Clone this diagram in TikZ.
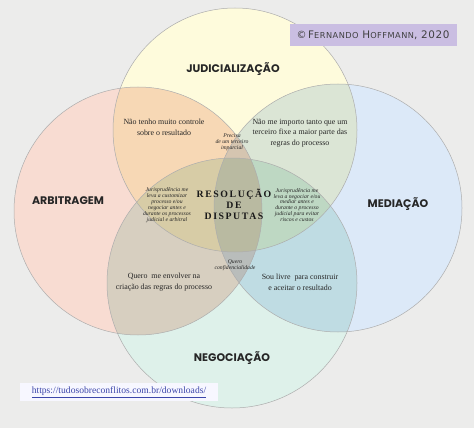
\documentclass[tikz,border=0pt]{standalone}
\usepackage{fontspec}
\setmainfont{Liberation Serif}
\newfontfamily\setfont{Poppins}
\newfontfamily\creditfont{DejaVu Sans}
\definecolor{paper}{RGB}{236,236,235}
\definecolor{arbred}{RGB}{248,220,210}
\definecolor{judyellow}{RGB}{254,251,220}
\definecolor{medblue}{RGB}{220,233,248}
\definecolor{neggreen}{RGB}{222,241,234}
\definecolor{creditlilac}{RGB}{202,190,226}
\definecolor{linkblue}{RGB}{60,70,170}
\newcommand\capword[2]{{\fontsize{10.4}{11}\selectfont #1}{\fontsize{8.2}{11}\selectfont #2}}

\begin{document}
\begin{tikzpicture}[
    x=1pt, y=-1pt,
    setline/.style={draw=black!32, line width=0.5pt},
    setname/.style={font=\setfont\bfseries\fontsize{11}{12}\selectfont, text=black!85},
    note/.style={align=center, font=\fontsize{7.9}{10.6}\selectfont, text=black!85},
    tinynote/.style={align=center, font=\itshape\fontsize{5.7}{5.9}\selectfont, text=black!85},
    core/.style={align=center, font=\bfseries\addfontfeatures{LetterSpace=16}\fontsize{9.8}{11}\selectfont, text=black!90}
]
    \fill[paper] (0,0) rectangle (474,428);

    % the four sets
    \begin{scope}[blend group=multiply]
        \fill[arbred] (138,211) circle (124);
        \fill[judyellow] (235,130) circle (122);
        \fill[medblue] (338,208) circle (124);
        \fill[neggreen] (232,283) circle (125);
    \end{scope}
    \path[setline] (138,211) circle (124);
    \path[setline] (235,130) circle (122);
    \path[setline] (338,208) circle (124);
    \path[setline] (232,283) circle (125);

    % set names
    \node[setname] (judic) at (233,69) {JUDICIALIZAÇÃO};
    \node[setname] (arbit) at (68,201) {ARBITRAGEM};
    \node[setname] (media) at (398,204) {MEDIAÇÃO};
    \node[setname] (negoc) at (232,358) {NEGOCIAÇÃO};

    % overlaps
    \node[note] (control) at (164,127) {Não tenho muito controle\\sobre o resultado};
    \node[note] (third) at (300,133) {Não me importo tanto que um\\terceiro fixe a maior parte das\\regras do processo};
    \node[note] (involve) at (164,282) {Quero\ \ me envolver na\\criação das regras do processo};
    \node[note] (free) at (300,282) {Sou livre\ \ para construir\\e aceitar o resultado};
    \node[tinynote] (impartial) at (232,142) {Precisa\\de um terceiro\\imparcial};
    \node[tinynote] (privacy) at (235,265) {Quero\\confidencialidade};
    \node[tinynote] (custom) at (167,205) {Jurisprudência me\\leva a customizar\\processo e/ou\\negociar antes e\\durante os processos\\judicial e arbitral};
    \node[tinynote] (avoid) at (297,205) {Jurisprudência me\\leva a negociar e/ou\\mediar antes e\\durante o processo\\judicial para evitar\\riscos e custos};
    \node[core] (center) at (234,204) {RESOLUÇÃO\\DE\\DISPUTAS};

    % credit and link
    \node[fill=creditlilac, minimum width=167, minimum height=22, inner sep=0pt,
          font=\creditfont\addfontfeatures{LetterSpace=6}, text=black!75] (credit) at (373,35)
        {©\,\capword{F}{ERNANDO} \capword{H}{OFFMANN}\capword{,}{} \capword{2020}{}};
    \node[fill=white!97!blue, minimum width=198, minimum height=18, inner sep=0pt,
          font=\fontsize{9.6}{10}\selectfont, text=linkblue] (link) at (119,392)
        {\underline{https://tudosobreconflitos.com.br/downloads/}};
\end{tikzpicture}
\end{document}
